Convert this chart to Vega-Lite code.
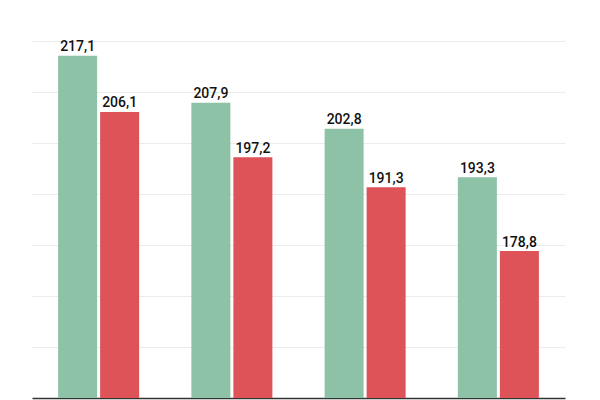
{
  "$schema": "https://vega.github.io/schema/vega-lite/v6.json",
  "width": 533,
  "height": 357,
  "autosize": {"type": "none"},
  "padding": {"left": 32, "top": 41, "right": 35, "bottom": 30},
  "data": {
    "values": [
      {"period": "1", "series": "A", "value": 217.1},
      {"period": "1", "series": "B", "value": 206.1},
      {"period": "2", "series": "A", "value": 207.9},
      {"period": "2", "series": "B", "value": 197.2},
      {"period": "3", "series": "A", "value": 202.8},
      {"period": "3", "series": "B", "value": 191.3},
      {"period": "4", "series": "A", "value": 193.3},
      {"period": "4", "series": "B", "value": 178.8}
    ]
  },
  "encoding": {
    "x": {
      "field": "period",
      "type": "nominal",
      "scale": {"paddingInner": 0.392, "paddingOuter": 0.196},
      "axis": {"title": null, "labels": false, "ticks": false, "domainColor": "#333333", "domainWidth": 1.5}
    },
    "xOffset": {
      "field": "series",
      "type": "nominal",
      "scale": {"paddingInner": 0.0714, "paddingOuter": 0}
    },
    "y": {
      "field": "value",
      "type": "quantitative",
      "scale": {"domain": [150, 220], "zero": false, "nice": false},
      "axis": {
        "title": null,
        "labels": false,
        "ticks": false,
        "domain": false,
        "values": [160, 170, 180, 190, 200, 210, 220],
        "gridColor": "#ececec",
        "gridWidth": 1
      }
    }
  },
  "layer": [
    {
      "mark": {"type": "bar", "clip": true},
      "encoding": {
        "color": {
          "field": "series",
          "type": "nominal",
          "scale": {"domain": ["A", "B"], "range": ["#8dc2a6", "#dd5358"]},
          "legend": null
        }
      }
    },
    {
      "mark": {
        "type": "text",
        "baseline": "alphabetic",
        "align": "center",
        "dy": -4.5,
        "font": "Roboto",
        "fontSize": 14,
        "fontWeight": 500,
        "color": "#111111"
      },
      "encoding": {
        "text": {"field": "value", "type": "quantitative", "format": ".1f"}
      }
    }
  ],
  "config": {
    "locale": {
      "number": {
        "decimal": ",",
        "thousands": ".",
        "grouping": [3],
        "currency": ["", " €"]
      }
    },
    "view": {"stroke": null},
    "background": "white"
  }
}
